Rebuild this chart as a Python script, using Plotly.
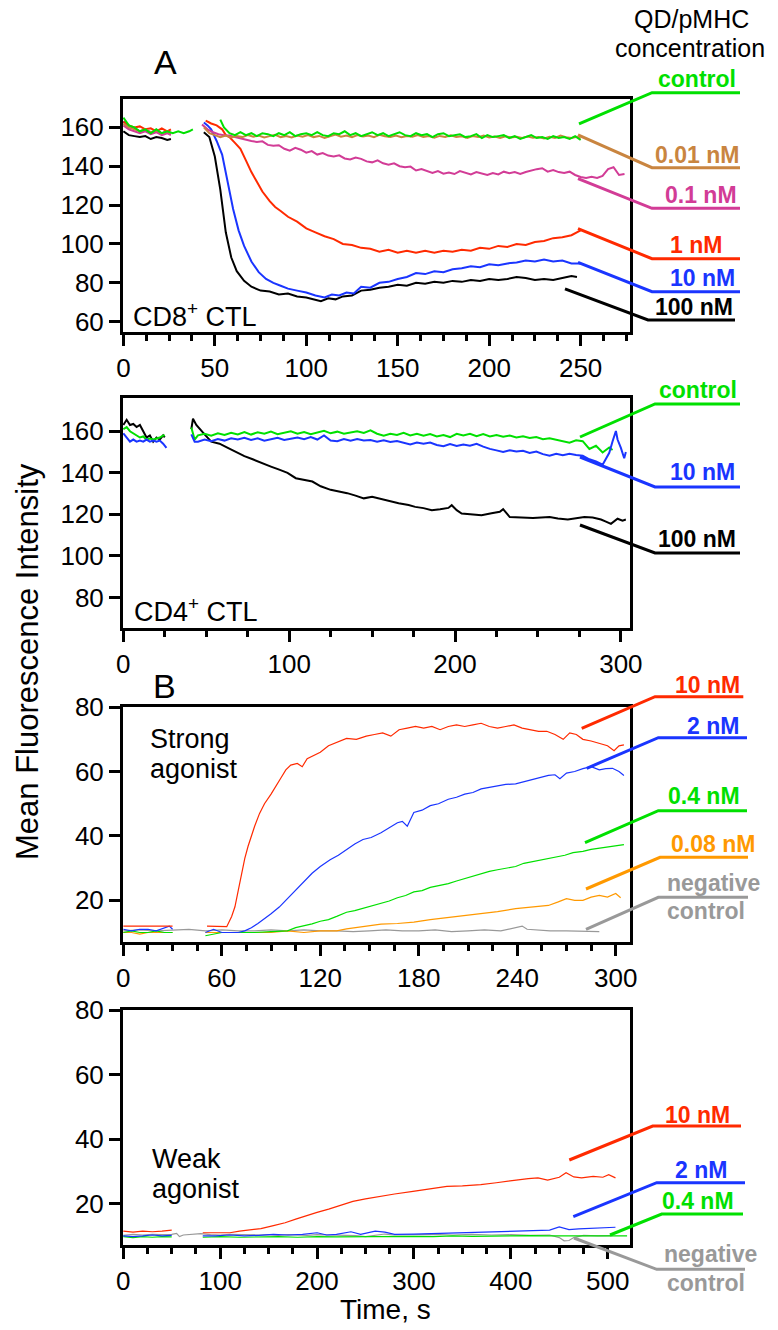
import plotly.graph_objects as go

W, H = 778, 1330

# ---------------- Panel A : CD8+ CTL ----------------
cd8_control_t = [0,3,6,9,12,15,18,21,24,27,30,33,36,38,None,
                 53,55,58,61,64,67,70,73,76,79,82,85,88,91,94,97,100,103,106,109,112,115,118,121,124,127,130,133,136,139,142,145,148,151,154,157,160,163,166,169,172,175,178,181,184,187,190,193,196,199,202,205,208,211,214,217,220,223,226,229,232,235,238,241,244,247,250]
cd8_control_v = [165,161,160,158,159,157,159,157,158,157,158,157,158,159,None,
                 164,160,
                 157,156,157.5,156,157,155.5,157,156.5,155.5,157,
                 156,157.5,155.5,156.5,157,156,157.5,156,155.5,157,
                 156.5,158,156,157,155.5,156.5,157.5,156,157,155.5,
                 156.5,157.5,156,155.5,157,156,156.5,155,156.5,157,
                 155.5,156,156.5,155,155.5,156.5,154.5,156,155,155.5,
                 156,154.5,155.5,154,155,156,154.5,155,154,155.5,
                 154.5,155,154,155.5,153.5]

cd8_001_t = [0,3,6,9,12,15,18,21,24,26,None,
             44,47,50,53,56,59,62,65,68,71,74,77,80,83,86,89,92,95,98,101,104,107,110,113,116,119,122,125,128,131,134,137,140,143,146,149,152,155,158,161,164,167,170,173,176,179,182,185,188,191,194,197,200,203,206,209,212,215,218,221,224,227,230,233,236,239,242,245,248,250]
cd8_001_v = [162,160,159,158,159,157.5,158.5,157,158,157,None,
             160,157,156,155,155.8,154.8,155.6,155,156,155.2,
             155.8,154.8,155.5,156.2,155,155.6,154.8,155.8,155.2,156,
             155,155.6,154.6,155.5,156.3,155.2,155.8,155,156,155.3,
             155.8,155,156.2,155.4,155,155.8,154.9,155.6,155.2,156,
             155,155.5,154.7,155.6,155.1,155.9,155,155.4,154.6,155.5,
             155,155.8,154.8,155.3,154.6,155.4,154.8,155.2,154.5,155.3,
             154.7,155,154.3,155.1,154.6,155.8,154.9,154.5,155.2,154.2]

cd8_01_t = [0,3,6,9,12,15,18,21,24,26,None,
            43,46,49,52,55,58,61,64,67,70,73,76,79,82,85,88,91,94,97,100,103,106,109,112,115,118,121,124,127,130,133,136,139,142,145,148,151,154,157,160,163,166,169,172,175,178,181,184,187,190,193,196,199,202,205,208,211,214,217,220,223,226,229,232,235,238,241,244,247,250,253,256,259,262,265,268,271,274]
cd8_01_v = [161,159,158,157,158,156.5,157.5,156,157,156,None,
            161.5,159,157.5,156.5,156,155.8,155,154.2,153.5,153,
            152.5,152.8,151,150.5,150.8,149,148,149.5,148.5,147,
            147.8,146,146.8,145.5,145,145.6,144,143.5,144.5,143.8,
            142.5,142,143,141.5,140.8,141.5,140,139.5,139.8,137.8,
            138.6,137.5,136.5,137.5,136.2,136.8,136,137.5,136.5,135.8,
            137,136.4,135.5,136.5,135.8,137.2,136.4,137,136,137,
            137.8,138.5,139,137.2,138,137,136.5,137.2,135.5,134.5,
            134,134.6,134,135,138.5,139.5,135.5,136]

cd8_1_t = [0,3,6,9,12,15,18,21,24,26,None,
           45,48,51,54,56,58,61,64,67,70,73,76,80,83,86,90,95,100,105,110,115,120,125,130,135,140,145,150,155,160,165,170,175,180,185,190,195,200,205,210,215,220,225,230,235,240,245,248,250]
cd8_1_v = [163,161,160,160.5,159,159.5,158,159.5,158,159,None,
           163.5,162,161,159,156,155,152,149,143,137,132,127,122,119,117,114,111.5,108,106,104,102.5,100,99.5,98,97.5,96,97,95.5,96.5,95.5,96.5,95.5,96.5,96,97,96.5,98,97.5,99,98.5,100,99.5,101,101.5,103,103.5,104.5,106,107]

cd8_10_t = [0,3,6,9,12,15,18,21,24,26,None,
            44,46,48,51,54,57,60,63,66,70,74,78,82,86,90,95,100,105,110,114,118,122,126,130,135,140,145,150,155,160,165,170,175,180,185,190,195,200,205,210,215,220,225,230,235,240,245,250]
cd8_10_v = [163,160,159.5,158,158.5,157.5,158,157,158,157,None,
            162.5,161,159,153,146,132,118,107,99,91,85.5,82,80,78.5,77,76,75,73.5,72.5,74,73.5,75,74.5,78,77.5,80,80.5,82,83,85,84.5,86,85.5,87,87.5,88.5,88,89.5,89,90,90.5,91.5,91,92,91,91.5,90,90]

cd8_100_t = [0,3,6,9,12,15,18,21,24,26,None,
             44,47,50,53,56,59,62,66,70,75,80,85,90,95,100,104,108,112,116,120,125,130,135,140,145,150,155,160,165,170,175,180,185,190,195,200,205,210,215,220,225,230,235,240,245,248]
cd8_100_v = [158,156,155.5,155,155.5,154,155,154.5,153.5,154,None,
             157.5,155,145,128,106,93,86,81,78,76,75.5,74,74.5,73,72.5,71.5,70.5,72,71.5,73,73.5,76,76.5,77.5,78,79,78.5,80,79.5,80.5,80,81,80.5,81.5,81,82,81.5,82,83,82.5,81.5,82,81.5,82.5,83.5,83]

# ---------------- Panel A : CD4+ CTL ----------------
cd4_control_t = [0,2,4,6,8,10,12,14,16,18,20,22,24,25,None,
                 41,43,45,49,53,57,61,65,69,73,77,81,85,89,93,97,101,105,109,113,117,121,125,129,133,137,141,145,149,153,157,161,165,169,173,177,181,185,189,193,197,201,205,209,213,217,221,225,229,233,237,241,245,249,253,257,261,265,269,273,277,281,285,289,293,295]
cd4_control_v = [161,162,160,159,158,157,157.5,156,156.5,156,156.5,157,158,158,None,
                 161.8,156,
                 158,158.8,157.8,159,158.2,159.3,158.5,159.6,158.4,159.5,
                 158.8,159.8,158.6,159.4,160,158.8,159.6,158.6,159.5,160.2,
                 159,159.8,158.8,159.5,160,159.2,160.4,158.8,157.8,158.8,
                 158.2,159.2,158,158.8,157.8,158.6,157.5,158.2,157.2,158.8,
                 158,158.8,157.6,158.6,157.5,158.2,157.4,157.9,157,157.6,
                 156.8,157.2,156.2,156.6,155.8,155.2,154.5,155.6,155.2,151.5,
                 153,149.8,152.2,
                 151]

cd4_10_t = [0,2,4,6,8,10,12,14,16,18,20,22,24,26,None,
            41,43,45,49,53,57,61,65,69,73,77,81,85,89,93,97,101,105,109,113,117,121,125,129,133,137,141,145,149,153,157,161,165,169,173,177,181,185,189,193,197,201,205,209,213,217,221,225,229,233,237,241,245,249,253,257,261,265,269,273,277,281,285,289,293,295,297,298,300,302,303]
cd4_10_v = [159,157,155,156,155,155.5,155,156,155,155.5,155,155.5,154,152,None,
            158.5,155,
            155,156,155.2,156.2,155.5,156.6,156,156.8,155.8,156.6,
            155.4,156.2,156.8,155.8,156.4,157,156.2,157.2,156,158,
            155.5,155.2,156.2,155.4,156.2,155.6,155.8,155,155.6,154.8,
            155.3,154.4,153.6,154.6,154,154.6,153.4,152.8,153.8,152.9,
            153.6,153,154,152.6,151.5,150.8,150,150.8,150.2,150.6,
            149.5,150.2,149,148.2,149.2,148.5,149.2,148.6,148.2,146.5,
            145.5,143.9,149.6,
            155.2,160.1,156,152,147,150]

cd4_100_t = [0,2,4,6,8,10,12,14,16,18,20,22,24,25,None,
             41,42,44,46,49,53,58,63,68,73,78,84,89,94,99,104,109,114,119,125,130,135,140,145,150,155,160,166,172,176,181,186,191,196,198,201,204,210,216,222,227,229,233,240,247,252,257,262,268,272,278,283,288,291,294,298,301,303]
cd4_100_v = [163,165.5,163,163.5,162,163,160,157,158,155,157,156,158,157,None,
             161,166,163,161,158.5,155,154,152,150,148,146.5,144.8,143,141.5,140,137.4,136.5,135.8,133.5,131.8,131,130.2,129,127.7,128.5,127.5,126.5,125.3,124.5,123.6,123,122,122.5,123.1,124.4,122,120.4,120,119.6,120.5,121.2,122.5,118.7,118.5,118.2,118.5,118.7,118,117.5,118,118.7,118.5,117.5,116.5,115.4,117.9,117,117.5]

# ---------------- Panel B : strong agonist ----------------
strong_10_t = [0,5,10,15,20,25,30,None,
               51,55,60,63,66,68,70,72,74,76,78,80,83,86,90,93,96,99,102,106,109,112,116,120,125,130,136,142,148,153,158,163,168,173,178,183,188,193,198,203,208,213,218,223,228,233,238,243,248,253,258,263,268,272,276,280,285,290,295,299,302,305]
strong_10_v = [12,12,12,11.8,12,12,12,None,
               12,12,12,11.8,15,18,23,28,33,36.8,40,43,47,50,53,55.7,58,60.5,62,62.5,61.5,64,65,66,68,69,70.3,70,71,71.5,72,71,73,73.5,74,73.5,74,73,74,74.5,74,74.5,75,74,73.5,74,74.5,73.5,73,72.5,72.5,71.5,70,72,71.5,70,69.5,68.7,68,66.5,68,68.3]

strong_2_t = [0,5,10,15,20,25,28,30,None,
              50,55,60,65,70,74,78,82,86,90,95,100,105,110,115,120,126,131,136,141,146,151,157,162,167,170,173,177,182,187,192,198,203,208,213,218,223,228,233,239,244,249,254,259,263,266,270,275,280,285,290,294,298,302,305]
strong_2_v = [11,10.5,11,11,10.5,11.5,12,11,None,
              10,11,10,10,10,10.5,11.5,12.8,14.2,15.8,17.9,20.5,23.2,25.8,28.4,30.5,32.6,34,35.7,37.5,38.9,39.5,41,42.5,44.1,44.5,43,47.3,48,49.4,50,51.4,52,53,53.5,54.6,55,55.5,56,56.2,56.8,57.5,58,58.8,59,57.8,59.5,60,60.9,61.5,60.5,60.9,61,60,58.8]

strong_04_t = [0,5,10,15,20,25,30,None,
               50,55,60,70,80,90,100,105,110,115,120,125,130,136,141,146,151,157,162,167,172,177,182,187,192,198,203,208,213,218,223,228,233,239,244,249,254,259,264,269,274,280,285,290,295,300,305]
strong_04_v = [10,10.5,10,10,10.5,10,10,None,
               9,9.5,10,10,10,10.3,10.5,11.5,12,12.7,13.5,14,15,16.3,16.8,17.5,18.2,19,19.8,20.8,21.5,22.6,23,24,24.5,25.2,26,26.8,27.5,28.4,29,29.5,30,30.5,31.5,32,32.5,33.1,33.5,34,34.8,35.2,35.8,36.2,36.5,36.8,37.3]

strong_008_t = [0,5,10,15,20,25,30,None,
                50,60,70,80,90,100,110,120,130,136,146,157,167,177,187,198,208,218,228,239,249,259,265,270,275,280,285,290,295,300,303]
strong_008_v = [10,10,9.5,10,10,10,10,None,
                10,10,10,10,10,10.5,10,10.5,10.5,11.1,11.8,12.6,12.8,13.2,14,14.7,15.2,15.8,16.5,17.4,17.8,18.4,19.5,20.5,20,20,21,21.5,21,22.1,20.8]

strong_neg_t = [0,10,20,30,40,50,60,70,80,90,100,110,120,130,140,150,160,170,180,190,200,210,220,230,240,243,246,250,260,270,280,290]
strong_neg_v = [10.5,10.8,10.5,10.8,11,10.5,10.8,10.5,10.5,10.8,10.5,10.8,10.5,10.5,10.3,10.5,10.8,10.5,10.5,10.8,10.3,10.5,10.8,10.5,11.5,12,11,10.8,10.5,10.5,10.5,10.3]

# ---------------- Panel B : weak agonist ----------------
weak_10_t = [0,10,20,30,40,50,None,
             82,90,100,110,120,130,142,155,167,178,188,200,212,224,237,250,265,280,299,315,334,350,369,385,404,418,428,438,450,457,465,473,485,495,501,508]
weak_10_v = [11.5,11.2,11.5,11.3,11.5,11.8,None,
             11,11,11,11,11.5,11.8,12.3,13.2,14.1,15.2,16.2,17.3,18.3,19.5,20.7,21.5,22.3,23,23.8,24.5,25.4,25.5,25.9,26.5,27.3,27.8,28,27.3,28.2,29.6,28.3,28,28.5,28.2,29,28]

weak_2_t = [0,10,20,30,40,50,None,
            82,95,110,125,140,155,170,185,200,210,220,235,245,260,270,280,300,320,340,360,380,400,420,440,450,460,470,480,490,500,508]
weak_2_v = [10,9.8,10,10.3,10,10.2,None,
            10,10,10.3,10,10.2,10.5,10.3,10.5,11,10.3,10.5,11.3,10.5,11.5,11.2,10.5,10.6,10.8,11,11,11.2,11.5,11.6,11.8,12.8,12,12.2,12.3,12.4,12.6,12.7]

weak_04_t = [0,10,20,30,40,50,None,
             82,100,120,140,160,180,200,220,240,260,280,300,320,340,360,380,400,420,440,460,480,500,520]
weak_04_v = [9.8,9.5,9.8,9.6,9.8,9.7,None,
             9.6,9.8,9.6,9.7,9.8,9.6,9.8,9.7,9.8,9.9,9.8,9.9,9.8,10,9.9,10,10,10.1,10,10,10.1,10,10]

weak_neg_t = [0,10,20,30,40,50,55,58,62,70,80,90,100,110,120,130,140,150,160,170,180,190,200,210,220,230,240,250,260,270,280,290,300,320,340,360,380,400,420,440,450,455,460,465,475,490,505]
weak_neg_v = [10.2,10.5,10.3,10.5,10.4,10.5,10.8,9.8,10.3,10.5,10.7,10.4,10.3,10.5,10.4,10.2,10.3,10.4,10.2,10.4,10.3,10.2,10.4,10.3,10.4,10.2,10.1,9.8,10.2,10.6,10.3,10.4,10.3,10.5,10.3,10.5,10.3,10.4,10.2,10.3,9.5,8.5,8.6,9.5,10.2,10,10.1]

# ---------------- colours ----------------
GREEN = "#00e000"
BROWN = "#c98540"
MAGENTA = "#d23c96"
RED = "#ff2a00"
BLUE = "#1a35ff"
BLACK = "#000000"
ORANGE = "#ff9900"
GREY = "#999999"
FONT = "Liberation Sans, Arial, sans-serif"

fig = go.Figure()

def add(t, v, color, ax, width):
    fig.add_trace(go.Scatter(x=t, y=v, mode="lines", line=dict(color=color, width=width),
                             xaxis="x" + ax, yaxis="y" + ax, connectgaps=False,
                             showlegend=False, hoverinfo="skip"))

# panel 1
for t, v, c in [(cd8_100_t, cd8_100_v, BLACK), (cd8_10_t, cd8_10_v, BLUE), (cd8_1_t, cd8_1_v, RED),
                (cd8_01_t, cd8_01_v, MAGENTA), (cd8_001_t, cd8_001_v, BROWN), (cd8_control_t, cd8_control_v, GREEN)]:
    add(t, v, c, "", 2)
# panel 2
for t, v, c in [(cd4_100_t, cd4_100_v, BLACK), (cd4_control_t, cd4_control_v, GREEN), (cd4_10_t, cd4_10_v, BLUE)]:
    add(t, v, c, "2", 2)
# panel 3
for t, v, c in [(strong_neg_t, strong_neg_v, GREY), (strong_008_t, strong_008_v, ORANGE),
                (strong_04_t, strong_04_v, GREEN), (strong_2_t, strong_2_v, BLUE), (strong_10_t, strong_10_v, RED)]:
    add(t, v, c, "3", 1.2)
# panel 4
for t, v, c in [(weak_neg_t, weak_neg_v, GREY), (weak_04_t, weak_04_v, GREEN),
                (weak_2_t, weak_2_v, BLUE), (weak_10_t, weak_10_v, RED)]:
    add(t, v, c, "4", 1.2)

XDOM = [123 / W, 630 / W]

def ydom(top, bottom):
    return [1 - bottom / H, 1 - top / H]

tickfont = dict(family=FONT, size=26, color="black")

def xaxis(anchor, rng, dtick, minor):
    return dict(domain=XDOM, anchor=anchor, range=rng, showline=True, linecolor="black", linewidth=3,
                mirror=True, ticks="outside", ticklen=11, tickwidth=3, tickcolor="black",
                tick0=0, dtick=dtick, showgrid=False, zeroline=False, tickfont=tickfont, automargin=False,
                minor=dict(ticks="outside", ticklen=6, tickwidth=3, tickcolor="black", dtick=minor, tick0=0, showgrid=False))

def yaxis(anchor, dom, rng, dtick):
    return dict(domain=dom, anchor=anchor, range=rng, showline=True, linecolor="black", linewidth=3,
                mirror=True, ticks="outside", ticklen=11, tickwidth=3, tickcolor="black", automargin=False,
                tick0=0, dtick=dtick, showgrid=False, zeroline=False, tickfont=tickfont)

fig.update_layout(
    width=W, height=H, autosize=False,
    margin=dict(l=0, r=0, t=0, b=0, pad=0),
    paper_bgcolor="white", plot_bgcolor="white",
    xaxis=xaxis("y", [-0.2, 277], 50, 12.5),
    yaxis=yaxis("x", ydom(99, 332), [54.7, 174.6], 20),
    xaxis2=xaxis("y2", [-0.2, 305.5], 100, 25),
    yaxis2=yaxis("x2", ydom(398, 628), [65.3, 176], 20),
    xaxis3=xaxis("y3", [-0.2, 308.7], 60, 15),
    yaxis3=yaxis("x3", ydom(707, 942), [7.05, 80.05], 20),
    xaxis4=xaxis("y4", [-0.3, 523], 100, 25),
    yaxis4=yaxis("x4", ydom(1010, 1245), [7.2, 80.05], 20),
)

annotations = []
shapes = []

def px(x, y):
    return x / W, 1 - y / H

def text(x, y, s, size, color="black", bold=False, anchor="center", angle=0):
    xp, yp = px(x, y)
    if bold:
        s = "<b>" + s + "</b>"
    annotations.append(dict(x=xp, y=yp, xref="paper", yref="paper", text=s, showarrow=False,
                            xanchor=anchor, yanchor="middle", textangle=angle,
                            font=dict(family=FONT, size=size, color=color)))

def leader(pts, color):
    path = "M " + " L ".join("%.5f,%.5f" % px(x, y) for x, y in pts)
    shapes.append(dict(type="path", path=path, xref="paper", yref="paper",
                       line=dict(color=color, width=3)))

LBL = 23
# Panel A CD8 labels
leader([(579, 124), (652, 92.7), (740, 92.7)], GREEN); text(697, 79, "control", LBL, GREEN, True)
leader([(578, 135), (652, 167.7), (740, 167.7)], BROWN); text(697, 155, "0.01 nM", LBL, BROWN, True)
leader([(578, 178.6), (652, 208.3), (740, 208.3)], MAGENTA); text(701, 195.5, "0.1 nM", LBL, MAGENTA, True)
leader([(578, 228.6), (652, 258.7), (740, 258.7)], RED); text(696, 245.5, "1 nM", LBL, RED, True)
leader([(578, 262.4), (652, 291.7), (740, 291.7)], BLUE); text(702, 278, "10 nM", LBL, BLUE, True)
leader([(565, 288.8), (648, 320), (735, 320)], BLACK); text(694, 306.5, "100 nM", LBL, BLACK, True)

# Panel A CD4 labels
leader([(580, 437), (655, 404), (740, 404)], GREEN); text(698, 390, "control", LBL, GREEN, True)
leader([(580, 457), (655, 487), (740, 487)], BLUE); text(702, 472, "10 nM", LBL, BLUE, True)
leader([(580, 525), (655, 553), (740, 553)], BLACK); text(697, 539, "100 nM", LBL, BLACK, True)

# Panel B strong labels
leader([(581.7, 728.3), (655, 696.7), (743.3, 696.7)], RED); text(707, 685, "10 nM", LBL, RED, True)
leader([(586.7, 768.3), (658.3, 737.7), (747, 737.7)], BLUE); text(713, 726, "2 nM", LBL, BLUE, True)
leader([(585, 842.7), (658.3, 810.7), (747, 810.7)], GREEN); text(704, 796, "0.4 nM", LBL, GREEN, True)
leader([(586, 889), (660, 857.3), (748, 857.3)], ORANGE); text(713, 844, "0.08 nM", LBL, ORANGE, True)
leader([(586, 929.3), (658.3, 897.3), (748, 897.3)], GREY)
text(713, 883, "negative", LBL, GREY, True); text(706, 911, "control", LBL, GREY, True)

# Panel B weak labels
leader([(569.3, 1160), (652.7, 1126), (741, 1126)], RED); text(697, 1115, "10 nM", LBL, RED, True)
leader([(573.3, 1216.7), (656.7, 1182.7), (745, 1182.7)], BLUE); text(701, 1170, "2 nM", LBL, BLUE, True)
leader([(610, 1235), (661.7, 1214), (743, 1214)], GREEN); text(698, 1201, "0.4 nM", LBL, GREEN, True)
leader([(574, 1238), (656.7, 1269.3), (745, 1269.3)], GREY)
text(710, 1254, "negative", LBL, GREY, True); text(706, 1283, "control", LBL, GREY, True)

# other texts
text(691, 19, "QD/pMHC", 25)
text(690, 48, "concentration", 25)
text(165, 62, "A", 34)
text(164, 686, "B", 34)
text(131, 315.4, "CD8<sup>+</sup> CTL", 27, anchor="left")
text(132, 610.4, "CD4<sup>+</sup> CTL", 27, anchor="left")
text(148, 739, "Strong", 27, anchor="left")
text(148, 769, "agonist", 27, anchor="left")
text(150, 1159, "Weak", 27, anchor="left")
text(150, 1189, "agonist", 27, anchor="left")
text(27, 662, "Mean Fluorescence Intensity", 31, angle=-90)
text(385, 1309, "Time, s", 28)

fig.update_layout(annotations=annotations, shapes=shapes)
fig.write_html("out.html", config={"displayModeBar": False},
               post_script="document.body.style.margin='0px';document.body.style.padding='0px';document.body.style.overflow='hidden';")
